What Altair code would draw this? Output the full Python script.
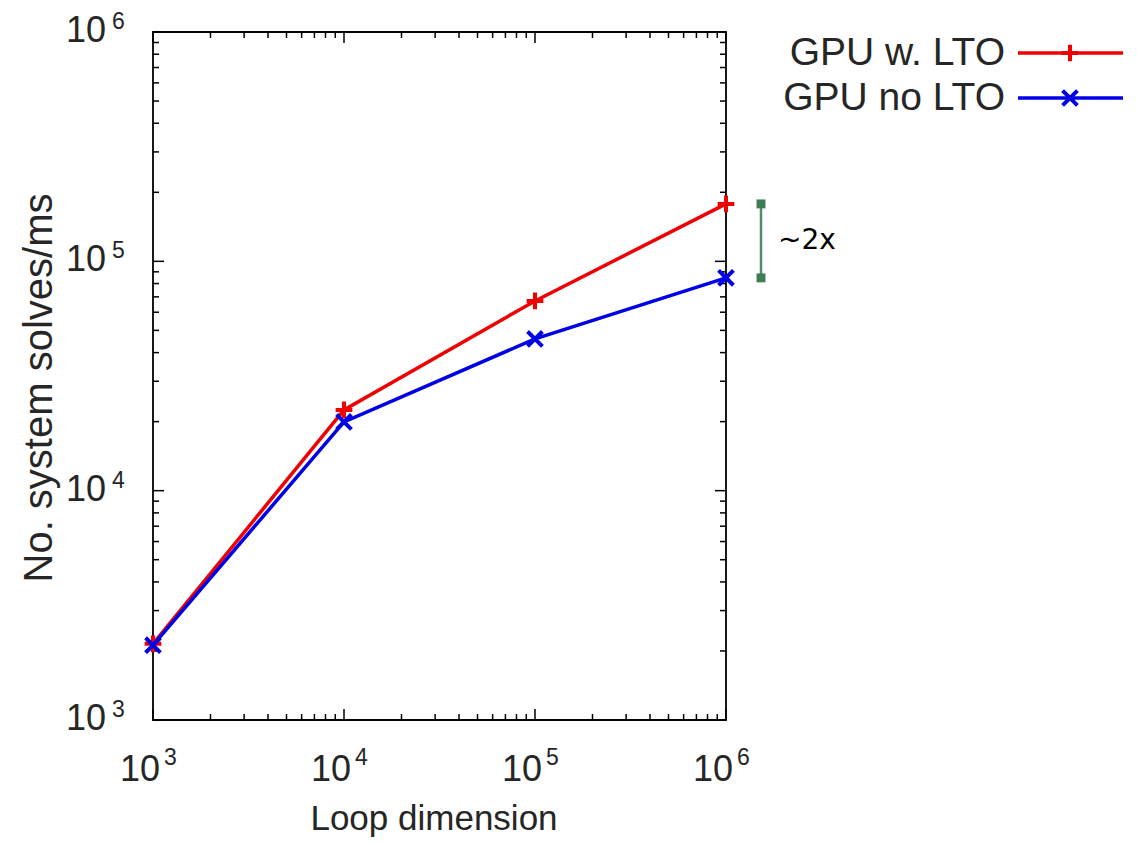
import altair as alt
import pandas as pd

# ---- data ----
loop_dims = [1e3, 1e4, 1e5, 1e6]
series_names = ["GPU w. LTO", "GPU no LTO"]
gpu_lto = [2150, 22500, 67200, 178000]
gpu_no_lto = [2120, 19950, 45900, 84700]
series_values = [gpu_lto, gpu_no_lto]
series_colors = ["#f00000", "#0000e6"]
major_ticks = [1e3, 1e4, 1e5, 1e6]
tick_base = ["10", "10", "10", "10"]
tick_exponents = ["3", "4", "5", "6"]
minor_mult = [2, 3, 4, 5, 6, 7, 8, 9]
minor_ticks = [m * d for d in [1e3, 1e4, 1e5] for m in minor_mult]
x_title = "Loop dimension"
y_title = "No. system solves/ms"
ratio_label = "~2x"

# ---- layout / style ----
W, H = 573, 688
FONT = "Liberation Sans"
TXT = "#262626"
PLUS = "M-1,0L1,0M0,-1L0,1"
CROSS = "M-1,-1L1,1M-1,1L1,-1"
shapes = [PLUS, CROSS]
marker_sizes = [280, 220]

xs = alt.Scale(type="log", domain=[1e3, 1e6])
ys = alt.Scale(type="log", domain=[1e3, 1e6])

layers = []

# ticks (inward, all four sides)
maj = pd.DataFrame({"v": major_ticks})
mnr = pd.DataFrame({"v": minor_ticks})
for df, ln in [(maj, 11), (mnr, 6)]:
    rule = alt.Chart(df).mark_rule(color="black", strokeWidth=1.5)
    layers.append(rule.encode(y=alt.Y("v:Q", scale=ys, axis=None), x=alt.value(0), x2=alt.value(ln)))
    layers.append(rule.encode(y=alt.Y("v:Q", scale=ys, axis=None), x=alt.value(W - ln), x2=alt.value(W)))
    layers.append(rule.encode(x=alt.X("v:Q", scale=xs, axis=None), y=alt.value(H - ln), y2=alt.value(H)))
    layers.append(rule.encode(x=alt.X("v:Q", scale=xs, axis=None), y=alt.value(0), y2=alt.value(ln)))

# tick labels (10 with superscript exponent)
lab = pd.DataFrame({"v": major_ticks, "b": tick_base, "e": tick_exponents})
layers.append(alt.Chart(lab).mark_text(font=FONT, fontSize=36, align="right", baseline="middle", color=TXT, dy=-1)
              .encode(y=alt.Y("v:Q", scale=ys, axis=None), x=alt.value(-47), text="b:N"))
layers.append(alt.Chart(lab).mark_text(font=FONT, fontSize=23, align="left", baseline="middle", color=TXT, dy=-10)
              .encode(y=alt.Y("v:Q", scale=ys, axis=None), x=alt.value(-41), text="e:N"))
layers.append(alt.Chart(lab).mark_text(font=FONT, fontSize=36, align="right", baseline="middle", color=TXT, dx=7)
              .encode(x=alt.X("v:Q", scale=xs, axis=None), y=alt.value(H + 50), text="b:N"))
layers.append(alt.Chart(lab).mark_text(font=FONT, fontSize=23, align="left", baseline="middle", color=TXT, dx=11)
              .encode(x=alt.X("v:Q", scale=xs, axis=None), y=alt.value(H + 38), text="e:N"))

# axis titles
layers.append(alt.Chart(pd.DataFrame({"t": [x_title]})).mark_text(font=FONT, fontSize=35, align="center", baseline="middle", color=TXT)
              .encode(x=alt.value(281), y=alt.value(H + 99), text="t:N"))
layers.append(alt.Chart(pd.DataFrame({"t": [y_title]})).mark_text(font=FONT, fontSize=40, align="center", baseline="middle", color=TXT, angle=270)
              .encode(x=alt.value(-113), y=alt.value(356), text="t:N"))

# series lines and markers
for name, vals, col, shp, sz in zip(series_names, series_values, series_colors, shapes, marker_sizes):
    df = pd.DataFrame({"dim": loop_dims, "val": vals, "series": [name] * len(vals)})
    enc = dict(x=alt.X("dim:Q", scale=xs, axis=None), y=alt.Y("val:Q", scale=ys, axis=None))
    layers.append(alt.Chart(df).mark_line(color=col, strokeWidth=3.5).encode(**enc))
    layers.append(alt.Chart(df).mark_point(shape=shp, filled=False, color=col, strokeWidth=4, size=sz, opacity=1).encode(**enc))

# legend (manual, text left of sample)
legend_y = [21, 66]
for name, col, shp, sz, ly in zip(series_names, series_colors, shapes, marker_sizes, legend_y):
    d = pd.DataFrame({"t": [name]})
    layers.append(alt.Chart(d).mark_text(font=FONT, fontSize=39, align="right", baseline="middle", color=TXT)
                  .encode(x=alt.value(852), y=alt.value(ly), text="t:N"))
    layers.append(alt.Chart(d).mark_rule(color=col, strokeWidth=3.5)
                  .encode(x=alt.value(865), x2=alt.value(970), y=alt.value(ly)))
    layers.append(alt.Chart(d).mark_point(shape=shp, filled=False, color=col, strokeWidth=4, size=sz, opacity=1)
                  .encode(x=alt.value(917), y=alt.value(ly)))

# ~2x bracket between the two values at 1e6
top_v, bot_v = gpu_lto[-1], gpu_no_lto[-1]
br = pd.DataFrame({"a": [top_v], "b": [bot_v], "m": [(top_v * bot_v) ** 0.5], "t": [ratio_label]})
caps = pd.DataFrame({"v": [top_v, bot_v]})
layers.append(alt.Chart(br).mark_rule(color="#4f8f63", strokeWidth=2.5)
              .encode(x=alt.value(608), y=alt.Y("a:Q", scale=ys, axis=None), y2="b:Q"))
layers.append(alt.Chart(caps).mark_square(color="#3f7d55", size=80, opacity=1)
              .encode(x=alt.value(608), y=alt.Y("v:Q", scale=ys, axis=None)))
layers.append(alt.Chart(br).mark_text(font="DejaVu Sans", fontSize=28, align="left", baseline="middle", color="black")
              .encode(x=alt.value(625), y=alt.Y("m:Q", scale=ys, axis=None), text="t:N"))

chart = alt.layer(*layers).properties(
    width=W, height=H,
    autosize=alt.AutoSizeParams(type="none"),
    padding={"left": 145, "top": 24, "right": 406, "bottom": 117},
    background="white",
).configure_view(stroke="black", strokeWidth=1.8)

chart.save("out.html", embed_options={"renderer": "svg", "actions": False})
